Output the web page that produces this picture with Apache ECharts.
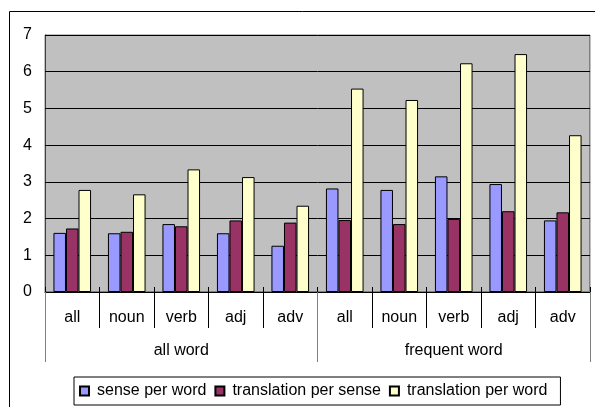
<!DOCTYPE html>
<html>
<head>
<meta charset="utf-8">
<script src="https://cdn.jsdelivr.net/npm/echarts@6/dist/echarts.min.js"></script>
<style>
html,body{margin:0;padding:0;background:#fff;}
#chart{width:595px;height:407px;}
</style>
</head>
<body>
<div id="chart"></div>
<script>
var categories = ['all','noun','verb','adj','adv','all','noun','verb','adj','adv'];
var groups = ['all word','frequent word'];
var sensePerWord = [1.61,1.60,1.85,1.60,1.26,2.82,2.78,3.15,2.94,1.95];
var translationPerSense = [1.73,1.64,1.79,1.95,1.89,1.96,1.85,1.99,2.20,2.17];
var translationPerWord = [2.78,2.66,3.34,3.13,2.35,5.54,5.23,6.23,6.48,4.27];
var seriesNames = ['sense per word','translation per sense','translation per word'];
var yTicks = [0,1,2,3,4,5,6,7];

var FONT = 'Liberation Sans, Arial, sans-serif';
var chart = echarts.init(document.getElementById('chart'), null, {renderer:'canvas'});
function barSeries(name, data, color){
  return {
    name: name, type: 'bar', data: data, xAxisIndex: 0, yAxisIndex: 0,
    barGap: '0%', barCategoryGap: '31%',
    itemStyle: {color: color, borderColor: '#000', borderWidth: 1},
    emphasis: {disabled: true}, z: 3
  };
}
chart.setOption({
  animation: false,
  backgroundColor: '#fff',
  textStyle: {fontFamily: FONT},
  grid: {left: 45, top: 35, right: 5, bottom: 115, show: true, backgroundColor: '#C0C0C0', borderColor: '#808080', borderWidth: 1},
  legend: {
    data: seriesNames, left: 74, top: 377, orient: 'horizontal',
    padding: [6, 13, 6, 5], borderColor: '#000', borderWidth: 1,
    itemGap: 8, itemWidth: 9, itemHeight: 9, icon: 'rect',
    textStyle: {fontSize: 16, color: '#000', fontFamily: FONT, padding: [0,0,0,3]}
  },
  xAxis: [
    {type: 'category', data: categories, position: 'bottom',
     axisLine: {show: true, lineStyle: {color: '#000', width: 1}},
     axisTick: {show: true, interval: 0, length: 36, lineStyle: {color: '#000'}},
     axisLabel: {interval: 0, margin: 18, fontSize: 16, color: '#000', fontFamily: FONT},
     splitLine: {show: false}},
    {type: 'category', data: groups, position: 'bottom',
     axisLine: {show: false},
     axisTick: {show: true, interval: 0, length: 70, lineStyle: {color: '#808080'}},
     axisLabel: {interval: 0, margin: 51, fontSize: 16, color: '#000', fontFamily: FONT},
     splitLine: {show: false}},
    {type: 'category', data: categories, position: 'bottom',
     axisLine: {show: false},
     axisTick: {show: true, interval: 0, inside: true, length: 5, lineStyle: {color: '#000'}},
     axisLabel: {show: false}, splitLine: {show: false}}
  ],
  yAxis: {
    type: 'value', min: yTicks[0], max: yTicks[yTicks.length-1], interval: 1,
    axisLine: {show: true, lineStyle: {color: '#404040'}},
    axisTick: {show: true, inside: true, length: 6, lineStyle: {color: '#000'}},
    axisLabel: {margin: 13, fontSize: 16, color: '#000', fontFamily: FONT},
    splitLine: {show: true, lineStyle: {color: '#000', width: 1}}
  },
  graphic: [
    {type: 'rect', shape: {x: 9.5, y: 11.5, width: 700, height: 500}, style: {fill: 'none', stroke: '#000', lineWidth: 1}, silent: true, z: 100},
    {type: 'rect', shape: {x: 45.5, y: 35.5, width: 544, height: 256}, style: {fill: 'none', stroke: '#808080', lineWidth: 1}, silent: true, z: 0}
  ],
  series: [
    barSeries(seriesNames[0], sensePerWord, '#9999FF'),
    barSeries(seriesNames[1], translationPerSense, '#993366'),
    barSeries(seriesNames[2], translationPerWord, '#FFFFCC')
  ]
});
</script>
</body>
</html>
